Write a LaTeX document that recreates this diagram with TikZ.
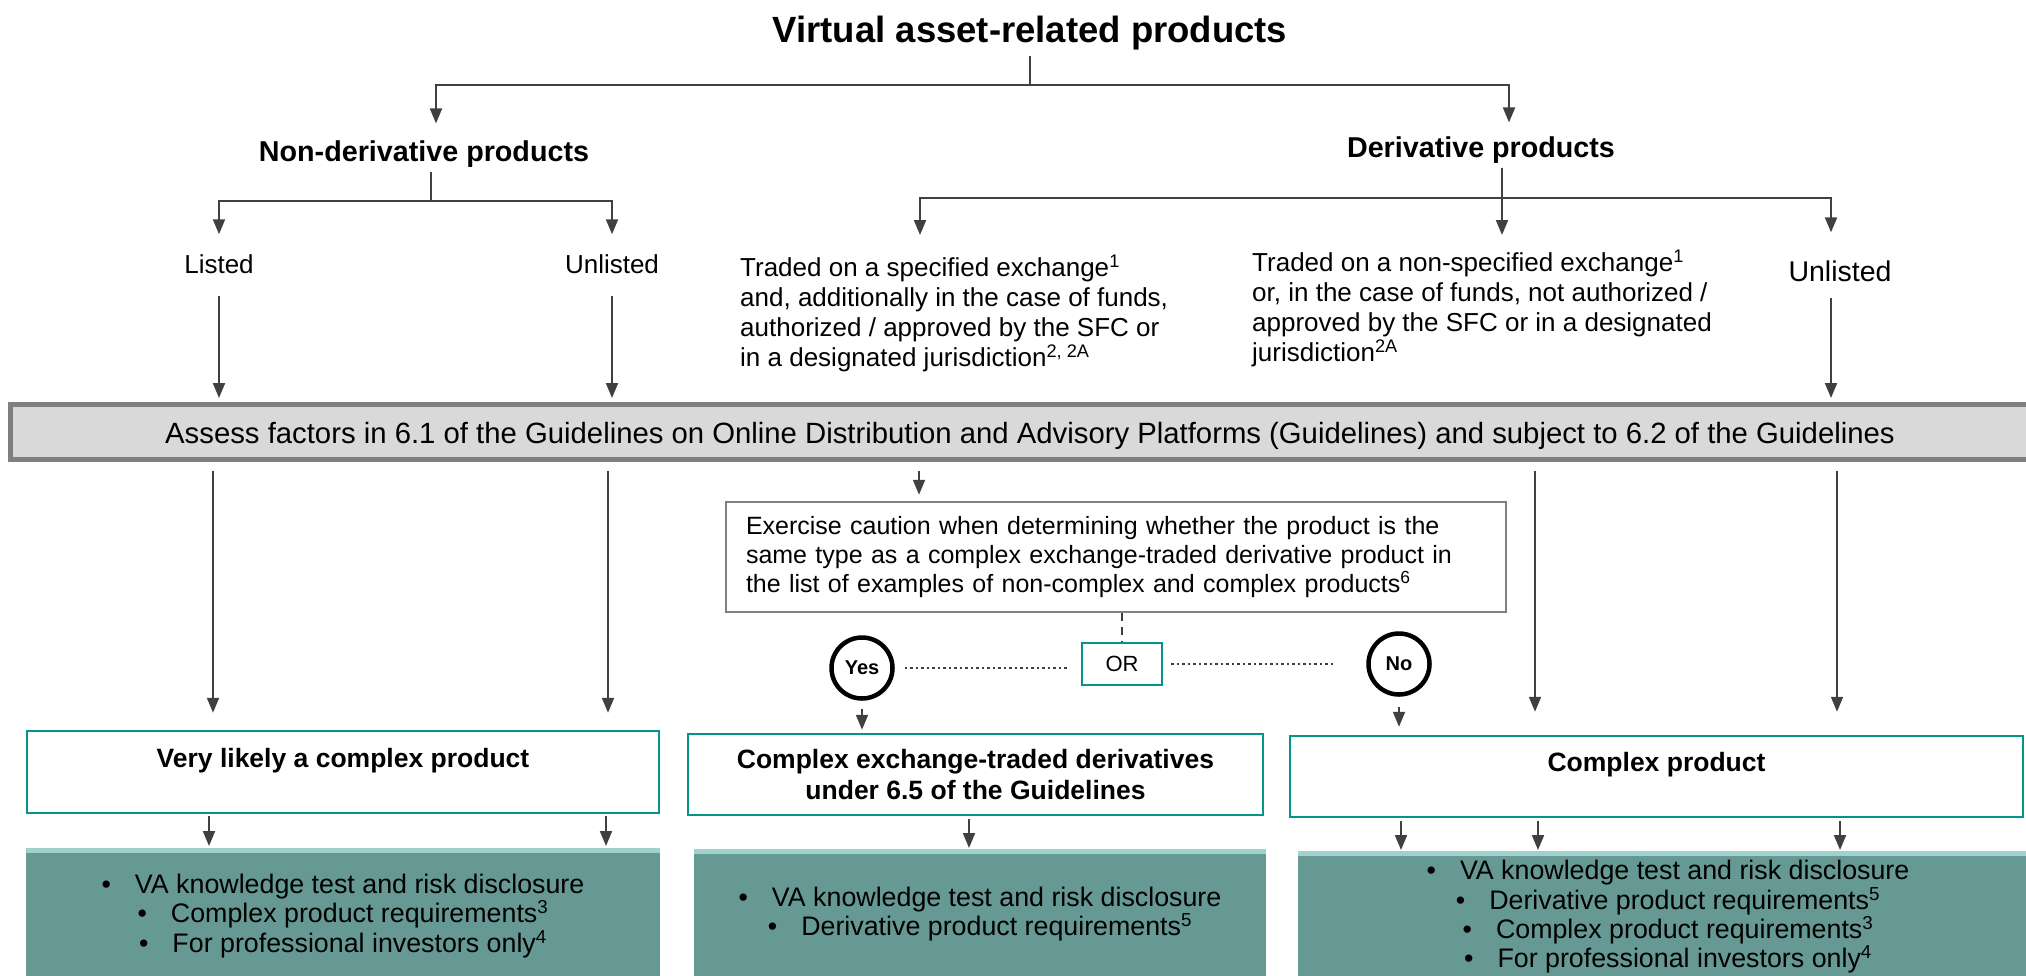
\documentclass[tikz,border=0pt]{standalone}
\usepackage{fontspec}
\setmainfont{Liberation Sans}
\usetikzlibrary{arrows.meta}
\definecolor{arrowgray}{HTML}{404040}
\definecolor{tealline}{RGB}{0,150,136}
\definecolor{tealfill}{RGB}{102,153,148}
\definecolor{tealstrip}{RGB}{160,210,205}
\definecolor{barfill}{HTML}{D9D9D9}
\definecolor{barline}{HTML}{7F7F7F}
\definecolor{boxline}{HTML}{808080}
\tikzset{
  arr/.style={draw=arrowgray, line width=2pt, -{Triangle[width=12pt,length=15pt]}},
  ln/.style={draw=arrowgray, line width=2pt},
  txt/.style={inner sep=0pt, font=\fontsize{26}{30}\selectfont},
  headtxt/.style={inner sep=0pt, font=\bfseries\fontsize{28.7}{32}\selectfont},
  boldtxt/.style={inner sep=0pt, align=center, font=\bfseries\fontsize{26.5}{31}\selectfont},
  tealbox/.style={draw=tealline, line width=2.5pt, fill=white, inner sep=0pt},
  reqbox/.style={fill=tealfill, inner sep=0pt, anchor=north, minimum height=135pt},
  reqtxt/.style={inner sep=0pt, align=center, font=\fontsize{26.8}{29.3}\selectfont},
  yesno/.style={circle, draw=black, line width=4.5pt, minimum size=61pt, inner sep=0pt, font=\bfseries\fontsize{20}{24}\selectfont},
  dotln/.style={draw=arrowgray, line width=2.5pt, dash pattern=on 2.5pt off 3pt},
}
\newcommand{\bul}{\textbullet\hspace{24pt}}
\begin{document}
\begin{tikzpicture}[x=1pt,y=-1pt]
\useasboundingbox (0,0) rectangle (2026,975);

% headings
\node[inner sep=0pt, font=\bfseries\fontsize{36.5}{40}\selectfont] (title) at (1030,33) {Virtual asset-related products};
\node[headtxt] (nonder) at (424,154) {Non-derivative products};
\node[headtxt] (der) at (1481,150) {Derivative products};

\node[txt] (listed) at (219,264) {Listed};
\node[txt] (unl1) at (612,264) {Unlisted};
\node[txt, anchor=north west, align=left] (spec) at (740,255) {Traded on a specified exchange\textsuperscript{1}\\and, additionally in the case of funds,\\authorized / approved by the SFC or\\in a designated jurisdiction\textsuperscript{2, 2A}};
\node[txt, anchor=north west, align=left] (nspec) at (1252,250) {Traded on a non-specified exchange\textsuperscript{1}\\or, in the case of funds, not authorized /\\approved by the SFC or in a designated\\jurisdiction\textsuperscript{2A}};
\node[inner sep=0pt, font=\fontsize{28.5}{32}\selectfont] (unl2) at (1840,271) {Unlisted};

% top tree
\coordinate (j1) at (1030,85);
\draw[ln, shorten <=6pt] (title) -- (j1);
\draw[arr, shorten >=17pt] (j1) -| ([xshift=12pt]nonder.north);
\draw[arr, shorten >=14pt] (j1) -| ([xshift=28pt]der.north);

\coordinate (j2) at (431,201);
\draw[ln, shorten <=4pt] ([xshift=7pt]nonder.south) -- (j2);
\draw[arr, shorten >=20pt] (j2) -| (listed.north);
\draw[arr, shorten >=20pt] (j2) -| (unl1.north);

\coordinate (j3) at (1502,198);
\draw[ln, shorten <=4pt] ([xshift=21pt]der.south) -- (j3);
\draw[arr, shorten >=20pt] (j3) -| ([xshift=180pt]spec.north west);
\draw[arr, shorten >=15pt] (j3) -- ([xshift=250pt]nspec.north west);
\draw[arr, shorten >=28pt] (j3) -| ([xshift=-9pt]unl2.north);

% assess bar
\node[draw=barline, fill=barfill, line width=5pt, minimum width=2040pt, minimum height=55pt, inner sep=0pt] (bar) at (1030,432) {};
\node[inner sep=0pt, font=\fontsize{29.3}{32}\selectfont] (bartxt) at (1030,436) {Assess factors in 6.1 of the Guidelines on Online Distribution and Advisory Platforms (Guidelines) and subject to 6.2 of the Guidelines};

\draw[arr, shorten <=22pt, shorten >=4pt] (listed.south) -- (listed.south |- bar.north);
\draw[arr, shorten <=22pt, shorten >=4pt] (unl1.south) -- (unl1.south |- bar.north);
\draw[arr, shorten <=16pt, shorten >=4pt] ([xshift=-9pt]unl2.south) -- ([xshift=-9pt]unl2.south |- bar.north);

% exercise caution box
\node[draw=boxline, line width=2.5pt, minimum width=780pt, minimum height=110pt, inner sep=0pt, text width=740pt, align=left, font=\fontsize{25}{29}\selectfont] (caut) at (1116,557) {Exercise caution when determining whether the product is the\\same type as a complex exchange-traded derivative product in\\the list of examples of non-complex and complex products\textsuperscript{6}};
\draw[arr, shorten <=9pt, shorten >=6pt] (919,0 |- bar.south) -- (919,0 |- caut.north);

\node[draw=tealline, line width=2.5pt, minimum width=80pt, minimum height=42pt, inner sep=0pt, font=\fontsize{22}{26}\selectfont] (or) at (1122,664) {OR};
\draw[draw=arrowgray, line width=2pt, dash pattern=on 8pt off 6pt] (or.north |- caut.south) -- (or.north);

\node[yesno] (yes) at (862,668) {Yes};
\node[yesno] (no) at (1399,664) {No};
\draw[dotln, shorten <=10pt, shorten >=12pt] (yes.east) -- (yes.east -| or.west);
\draw[dotln, shorten <=8pt, shorten >=33pt] (or.east) -- (or.east -| no.west);

% result boxes
\node[tealbox, minimum width=632pt, minimum height=82pt] (vlik) at (343,772) {};
\node[boldtxt] (vlikt) at (343,761) {Very likely a complex product};
\node[tealbox, minimum width=575pt, minimum height=81pt, boldtxt] (cet) at (975.5,774.5) {Complex exchange-traded derivatives\\under 6.5 of the Guidelines};
\node[tealbox, minimum width=733pt, minimum height=81pt] (cplx) at (1656.5,776.5) {};
\node[boldtxt] (cplxt) at (1656.5,765) {Complex product};

\draw[arr, shorten <=9pt, shorten >=17pt] (213,0 |- bar.south) -- (213,0 |- vlik.north);
\draw[arr, shorten <=9pt, shorten >=17pt] (608,0 |- bar.south) -- (608,0 |- vlik.north);
\draw[arr, shorten <=9pt, shorten >=23pt] (1535,0 |- bar.south) -- (1535,0 |- cplx.north);
\draw[arr, shorten <=9pt, shorten >=23pt] (1837,0 |- bar.south) -- (1837,0 |- cplx.north);
\draw[arr, shorten <=8pt, shorten >=3pt] (yes.south) -- (yes.south |- cet.north);
\draw[arr, shorten <=10pt, shorten >=8pt] (no.south) -- (no.south |- cplx.north);

% requirement boxes
\node[reqbox, minimum width=634pt] (req1) at (343,848) {};
\node[reqbox, minimum width=572pt] (req2) at (980,849) {};
\node[reqbox, minimum width=730pt] (req3) at (1663,851) {};
\foreach \r in {req1,req2,req3}{\fill[tealstrip] (\r.north west) rectangle ([yshift=-5pt]\r.north east);}

\node[reqtxt] (req1t) at (343,916) {\bul VA knowledge test and risk disclosure\\\bul Complex product requirements\textsuperscript{3}\\\bul For professional investors only\textsuperscript{4}};
\node[reqtxt] (req2t) at (980,914) {\bul VA knowledge test and risk disclosure\\\bul Derivative product requirements\textsuperscript{5}};
\node[reqtxt] (req3t) at (1668,917) {\bul VA knowledge test and risk disclosure\\\bul Derivative product requirements\textsuperscript{5}\\\bul Complex product requirements\textsuperscript{3}\\\bul For professional investors only\textsuperscript{4}};

\draw[arr, shorten <=2pt, shorten >=2pt] (209,0 |- vlik.south) -- (209,0 |- req1.north);
\draw[arr, shorten <=2pt, shorten >=2pt] (606,0 |- vlik.south) -- (606,0 |- req1.north);
\draw[arr, shorten <=3pt, shorten >=1pt] (969,0 |- cet.south) -- (969,0 |- req2.north);
\draw[arr, shorten <=3pt, shorten >=1pt] (1401,0 |- cplx.south) -- (1401,0 |- req3.north);
\draw[arr, shorten <=3pt, shorten >=1pt] (1538,0 |- cplx.south) -- (1538,0 |- req3.north);
\draw[arr, shorten <=3pt, shorten >=1pt] (1840,0 |- cplx.south) -- (1840,0 |- req3.north);
\end{tikzpicture}
\end{document}
